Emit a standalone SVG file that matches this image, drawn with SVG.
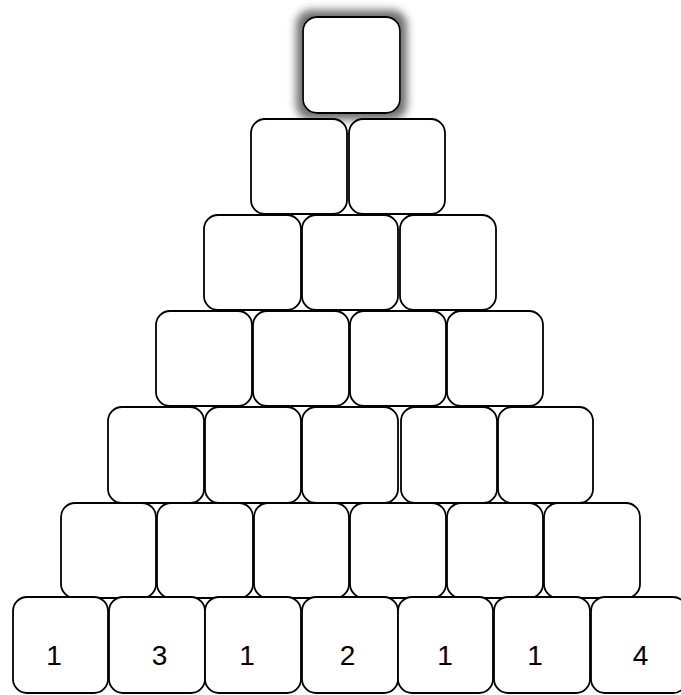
<svg xmlns="http://www.w3.org/2000/svg" width="681" height="695" viewBox="0 0 681 695">
  <style>
    .b { fill: #ffffff; stroke: #000000; stroke-width: 1.8; }
    .t { font-family: "Liberation Sans", Arial, sans-serif; font-size: 28px; fill: #000000; text-anchor: middle; }
  </style>
  <defs>
    <filter id="sh" x="-40%" y="-40%" width="180%" height="180%">
      <feMorphology in="SourceAlpha" operator="dilate" radius="6" result="d"/>
      <feGaussianBlur in="d" stdDeviation="4" result="b"/>
      <feFlood flood-color="#6e6e6e" result="c"/>
      <feComposite in="c" in2="b" operator="in" result="s"/>
      <feMerge><feMergeNode in="s"/><feMergeNode in="SourceGraphic"/></feMerge>
    </filter>
  </defs>
  <rect width="681" height="695" fill="#ffffff"/>

  <g id="r1c1"><rect class="b" x="303" y="17" width="97" height="96" rx="14" filter="url(#sh)"/></g>

  <g id="r2c1"><rect class="b" x="251" y="119" width="96" height="95" rx="14"/></g>
  <g id="r2c2"><rect class="b" x="349" y="119" width="96" height="95" rx="14"/></g>

  <g id="r3c1"><rect class="b" x="204" y="215" width="97" height="95" rx="14"/></g>
  <g id="r3c2"><rect class="b" x="302" y="215" width="96" height="95" rx="14"/></g>
  <g id="r3c3"><rect class="b" x="400" y="215" width="96" height="95" rx="14"/></g>

  <g id="r4c1"><rect class="b" x="156" y="311" width="96" height="95" rx="14"/></g>
  <g id="r4c2"><rect class="b" x="253" y="311" width="96" height="95" rx="14"/></g>
  <g id="r4c3"><rect class="b" x="350" y="311" width="96" height="95" rx="14"/></g>
  <g id="r4c4"><rect class="b" x="447" y="311" width="96" height="95" rx="14"/></g>

  <g id="r5c1"><rect class="b" x="108" y="407" width="96" height="96" rx="14"/></g>
  <g id="r5c2"><rect class="b" x="205" y="407" width="96" height="96" rx="14"/></g>
  <g id="r5c3"><rect class="b" x="302" y="407" width="96" height="96" rx="14"/></g>
  <g id="r5c4"><rect class="b" x="401" y="407" width="96" height="96" rx="14"/></g>
  <g id="r5c5"><rect class="b" x="498" y="407" width="95" height="96" rx="14"/></g>

  <g id="r6c1"><rect class="b" x="61" y="503" width="95" height="95" rx="14"/></g>
  <g id="r6c2"><rect class="b" x="157" y="503" width="96" height="95" rx="14"/></g>
  <g id="r6c3"><rect class="b" x="254" y="503" width="95" height="95" rx="14"/></g>
  <g id="r6c4"><rect class="b" x="350" y="503" width="96" height="95" rx="14"/></g>
  <g id="r6c5"><rect class="b" x="447" y="503" width="96" height="95" rx="14"/></g>
  <g id="r6c6"><rect class="b" x="544" y="503" width="96" height="95" rx="14"/></g>

  <g id="r7c1"><rect class="b" x="13" y="597" width="95" height="96" rx="14"/><text class="t" x="54" y="665">1</text></g>
  <g id="r7c2"><rect class="b" x="109" y="597" width="96" height="96" rx="14"/><text class="t" x="159.5" y="665">3</text></g>
  <g id="r7c3"><rect class="b" x="205" y="597" width="96" height="96" rx="14"/><text class="t" x="247" y="665">1</text></g>
  <g id="r7c4"><rect class="b" x="302" y="597" width="96" height="96" rx="14"/><text class="t" x="347.5" y="665">2</text></g>
  <g id="r7c5"><rect class="b" x="398" y="597" width="95" height="96" rx="14"/><text class="t" x="445" y="665">1</text></g>
  <g id="r7c6"><rect class="b" x="494" y="597" width="96" height="96" rx="14"/><text class="t" x="535" y="665">1</text></g>
  <g id="r7c7"><rect class="b" x="591" y="597" width="96" height="96" rx="14"/><text class="t" x="640.5" y="665">4</text></g>
</svg>
